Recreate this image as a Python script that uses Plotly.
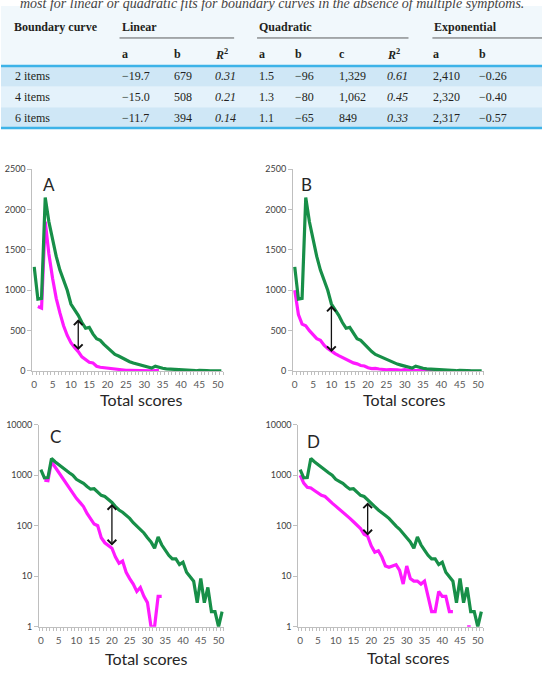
import math
import plotly.graph_objects as go

W, H = 543, 676

# ---------------- table data ----------------
row_labels = ["2 items", "4 items", "6 items"]
lin_a = ["−19.7", "−15.0", "−11.7"]
lin_b = ["679", "508", "394"]
lin_r2 = ["0.31", "0.21", "0.14"]
quad_a = ["1.5", "1.3", "1.1"]
quad_b = ["−96", "−80", "−65"]
quad_c = ["1,329", "1,062", "849"]
quad_r2 = ["0.61", "0.45", "0.33"]
exp_a = ["2,410", "2,320", "2,317"]
exp_b = ["−0.26", "−0.40", "−0.57"]
group_headers = ["Linear", "Quadratic", "Exponential"]
sub_headers = ["a", "b", "<i>R</i><sup>2</sup>", "a", "b", "c", "<i>R</i><sup>2</sup>", "a", "b"]
caption_tail = "most for linear or quadratic fits for boundary curves in the absence of multiple symptoms."

# ---------------- chart data ----------------
scores = list(range(52))
green = [1290, 890, 900, 2150, 1850, 1620, 1420, 1250, 1120, 1000,
         830, 760, 690, 600, 530, 540, 460, 400, 380, 330,
         290, 240, 205, 185, 160, 140, 115, 98, 85, 72,
         58, 48, 36, 60, 42, 33, 26, 22, 22, 17,
         19, 12, 10, 8, 3, 9, 3, 6, 2, 2,
         1, 2]
magenta_ac = [None, 800, 780, 1850, 1450, 1150, 900, 720, 560, 440,
              350, 290, 240, 175, 135, 108, 100, 58, 46, 40,
              36, 24, 18, 20, 12, 9, 7, 5, 6, 4,
              3, 1, 1, 4, 4]
magenta_bd = [1000, 700, 580, 560, 500, 450, 400, 380, 320, 280,
              245, 215, 190, 165, 140, 120, 100, 88, 68, 62,
              40, 30, 32, 24, 16, 15, 16, 17, 13, 7,
              16, 9, 8, 8, 7, 8, 4, 2, 2, 5,
              4, 4, 2, 2, None, None, None, 1, 1]
panel_letters = ["A", "B", "C", "D"]
lin_ticks = [0, 500, 1000, 1500, 2000, 2500]
log_ticks = [1, 10, 100, 1000, 10000]
x_ticks = list(range(0, 51, 5))
# arrows: (x, top, bottom)
arrow_a = (12, 640, 240)
arrow_b = (10, 810, 215)
arrow_c = (20, 270, 38)
arrow_d = (19, 290, 60)

GREEN = "#178f48"
MAGENTA = "#ff19ff"
AX = "#bfbfbf"
TXT = "#231f20"


def px(x):
    return x / W


def py(y):
    return 1 - y / H


fig = go.Figure()

panels = [
    ("", (31.5, 223.0), (166.0, 371.0), False),
    ("2", (293.0, 484.3), (166.0, 371.0), False),
    ("3", (38.2, 223.7), (425.7, 631.0), True),
    ("4", (298.5, 483.9), (425.7, 631.0), True),
]
magentas = [magenta_ac, magenta_bd, magenta_ac, magenta_bd]
arrows = [arrow_a, arrow_b, arrow_c, arrow_d]
letter_pos = [(48, 181), (307, 181), (55, 438), (314, 443)]
title_pos = [(141, 400), (404, 400), (146, 663), (409, 662)]

layout = dict(width=W, height=H, margin=dict(l=0, r=0, t=0, b=0),
              paper_bgcolor="white", plot_bgcolor="white", showlegend=False)
annotations = []
shapes = []

for i, (nm, xd, yd, islog) in enumerate(panels):
    xa = "xaxis" + nm
    ya = "yaxis" + nm
    layout[xa] = dict(
        domain=[px(xd[0]), px(xd[1])], anchor="y" + nm, range=[-0.5, 51.5],
        tickmode="array", tickvals=x_ticks, ticktext=[str(v) for v in x_ticks],
        ticks="", showline=True, linecolor=AX, linewidth=1, showgrid=False,
        zeroline=False, ticklabelstandoff=4,
        tickfont=dict(family="Lato", size=10, color="#595959"),
        minor=dict(tickmode="linear", tick0=-0.5, dtick=1, ticks="outside",
                   ticklen=3, tickcolor=AX, tickwidth=1, showgrid=False),
    )
    yd_dom = [py(yd[1]), py(yd[0])]
    common_y = dict(domain=yd_dom, anchor="x" + nm, tickmode="array",
                    ticks="outside", ticklen=4, tickcolor=AX, showline=True,
                    linecolor=AX, linewidth=1, showgrid=False, zeroline=False,
                    tickfont=dict(family="Lato", size=9, color="#404040"))
    if islog:
        layout[ya] = dict(common_y, type="log", range=[0, 4], tickvals=log_ticks,
                          ticktext=[str(v) for v in log_ticks])
    else:
        layout[ya] = dict(common_y, range=[0, 2500], tickvals=lin_ticks,
                          ticktext=[str(v) for v in lin_ticks])

    mg = magentas[i]
    fig.add_trace(go.Scatter(x=scores[:len(mg)], y=mg, mode="lines",
                             line=dict(color=MAGENTA, width=3.2),
                             connectgaps=False, xaxis="x" + nm, yaxis="y" + nm))
    fig.add_trace(go.Scatter(x=scores, y=green, mode="lines",
                             line=dict(color=GREEN, width=3.2),
                             xaxis="x" + nm, yaxis="y" + nm))

    ax_x, top, bot = arrows[i]
    if islog:
        ytop, ybot = math.log10(top), math.log10(bot)
    else:
        ytop, ybot = top, bot
    annotations.append(dict(
        x=ax_x, y=ytop, ax=ax_x, ay=ybot, xref="x" + nm, yref="y" + nm,
        axref="x" + nm, ayref="y" + nm, showarrow=True, text="",
        arrowhead=4, startarrowhead=4, arrowside="end+start",
        arrowsize=1.3, startarrowsize=1.3, arrowwidth=1.3, arrowcolor="#111111",
    ))
    lx, ly = letter_pos[i]
    annotations.append(dict(x=px(lx), y=py(ly), xref="paper", yref="paper",
                            text=panel_letters[i], showarrow=False,
                            xanchor="center", yanchor="middle",
                            font=dict(family="Lato", size=17, color="#262626")))
    tx, ty = title_pos[i]
    annotations.append(dict(x=px(tx), y=py(ty), xref="paper", yref="paper",
                            text="Total scores", showarrow=False,
                            xanchor="center", yanchor="middle",
                            font=dict(family="Lato", size=16, color="#262626")))

# ---------------- table ----------------
shapes.append(dict(type="rect", xref="paper", yref="paper", x0=0, x1=1,
                   y0=py(61), y1=py(0), fillcolor="#f1f8fc", line=dict(width=0), layer="below"))
band_cols = ["#cfe7f6", "#e4f2fb", "#cfe7f6"]
band_y = [(61, 82), (82, 103), (103, 124)]
for (y0, y1), c in zip(band_y, band_cols):
    shapes.append(dict(type="rect", xref="paper", yref="paper", x0=0, x1=1,
                       y0=py(y1), y1=py(y0), fillcolor=c, line=dict(width=0), layer="below"))
for yy in (61, 124):
    shapes.append(dict(type="line", xref="paper", yref="paper", x0=0, x1=1,
                       y0=py(yy), y1=py(yy), line=dict(color="#3db3e8", width=2.5)))
for x0, x1 in [(119, 234), (257, 409), (433, 543)]:
    shapes.append(dict(type="line", xref="paper", yref="paper", x0=px(x0), x1=px(x1),
                       y0=py(32.5), y1=py(32.5), line=dict(color="#333333", width=0.8)))

col_x = [119, 172, 213, 257, 293, 337, 385, 432, 478]
serif = "Liberation Serif"


def tab_text(x, y, t, bold=False, italic=False, color=TXT, size=12):
    if italic:
        t = "<i>" + t + "</i>"
    if bold:
        t = "<b>" + t + "</b>"
    annotations.append(dict(x=px(x), y=py(y), xref="paper", yref="paper", text=t,
                            showarrow=False, xanchor="left", yanchor="middle",
                            font=dict(family=serif, size=size, color=color)))


tab_text(17, -3, caption_tail, italic=True, color="#444444", size=14)
tab_text(11, 21, "Boundary curve", bold=True)
for t, x in zip(group_headers, [119, 257, 433]):
    tab_text(x, 21, t, bold=True)
for t, x in zip(sub_headers, col_x):
    tab_text(x, 49, t, bold=True)

row_y = [71, 92, 114]
cols = [lin_a, lin_b, lin_r2, quad_a, quad_b, quad_c, quad_r2, exp_a, exp_b]
italic_cols = {2, 6}
for r, yy in enumerate(row_y):
    tab_text(12, yy, row_labels[r])
    for c, (vals, x) in enumerate(zip(cols, col_x)):
        tab_text(x, yy, vals[r], italic=(c in italic_cols))

layout["annotations"] = annotations
layout["shapes"] = shapes
fig.update_layout(**layout)
fig.write_html("out.html")
